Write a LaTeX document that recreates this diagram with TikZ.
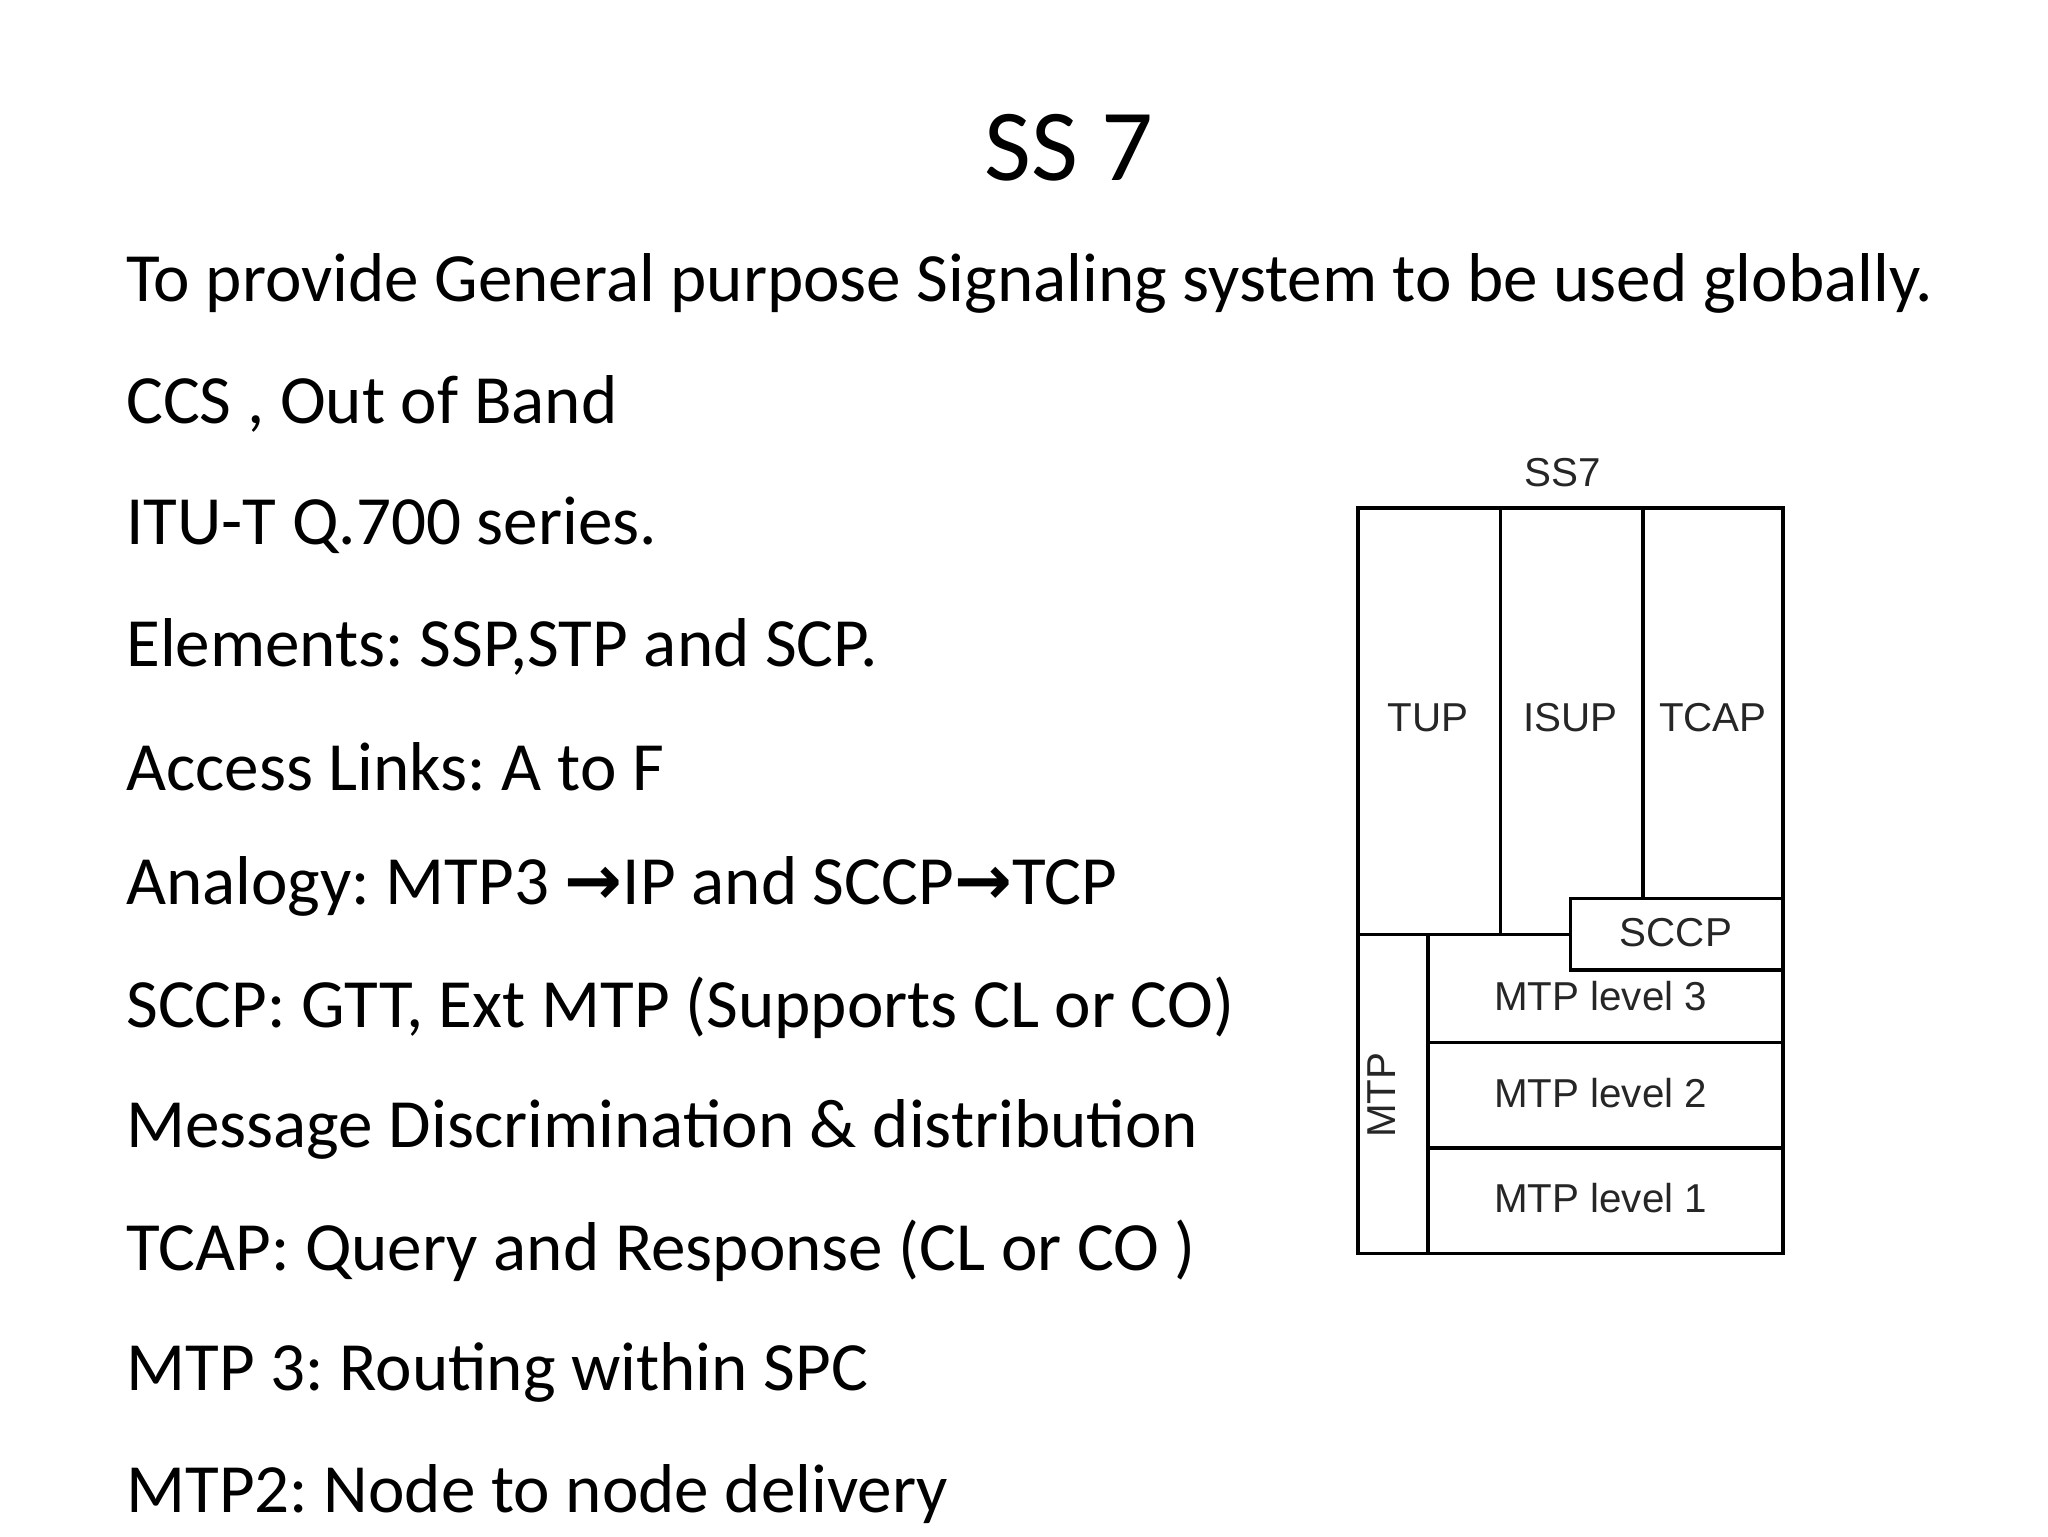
\documentclass[tikz,border=0pt]{standalone}
\usepackage{fontspec}
\setmainfont{Carlito}
\newfontfamily\arial{Liberation Sans}
\newfontfamily\djv{DejaVu Sans}
\frenchspacing
\begin{document}
\begin{tikzpicture}[x=0.1mm,y=-0.1mm,
  body/.style={anchor=west,font=\fontsize{14.9}{18}\selectfont,inner sep=0},
  lab/.style={font=\arial\fontsize{8.7}{10}\selectfont,text=black!85,inner sep=0},
  ln/.style={line width=0.75pt}]
\fill[white] (0,0) rectangle (1552,1164);
\useasboundingbox (0,0) rectangle (1552,1164);
\node[font=\fontsize{22}{26}\selectfont] (title) at (810,112) {SS 7};
\node[body] (l1) at (95,215) {To provide General purpose Signaling system to be used globally.};
\node[body] (l2) at (95,306) {CCS , Out of Band};
\node[body] (l3) at (95,398) {ITU-T Q.700 series.};
\node[body] (l4) at (95,490) {Elements: SSP,STP and SCP.};
\node[body] (l5) at (95,581) {Access Links: A to F};
\node[body] (l6) at (95,672) {Analogy: MTP3 {\djv\bfseries →}IP and SCCP{\djv\bfseries →}TCP};
\node[body] (l7) at (95,764) {SCCP: GTT, Ext MTP (Supports CL or CO)};
\node[body] (l8) at (95,856) {Message Discrimination \& distribution};
\node[body] (l9) at (95,948) {TCAP: Query and Response (CL or CO )};
\node[body] (l10) at (95,1040) {MTP 3: Routing within SPC};
\node[body] (l11) at (95,1132) {MTP2: Node to node delivery};
% diagram
\draw[ln] (1029,385) rectangle (1351,950);
\draw[ln] (1137,385) -- (1137,708);
\draw[ln] (1245,385) -- (1245,681);
\draw[ln] (1029,708) -- (1190,708);
\draw[ln] (1190,681) rectangle (1351,735);
\draw[ln] (1082,708) -- (1082,950);
\draw[ln] (1082,790) -- (1351,790);
\draw[ln] (1082,870) -- (1351,870);
\node[lab] (ss7) at (1184,358) {SS7};
\node[lab] (tup) at (1082,544) {TUP};
\node[lab] (isup) at (1190,544) {ISUP};
\node[lab] (tcap) at (1298,544) {TCAP};
\node[lab] (sccp) at (1270,707) {SCCP};
\node[lab] (m3) at (1213,755) {MTP level 3};
\node[lab] (m2) at (1213,828) {MTP level 2};
\node[lab] (m1) at (1213,908) {MTP level 1};
\node[lab,rotate=90] (mtp) at (1047,830) {MTP};
\end{tikzpicture}
\end{document}
